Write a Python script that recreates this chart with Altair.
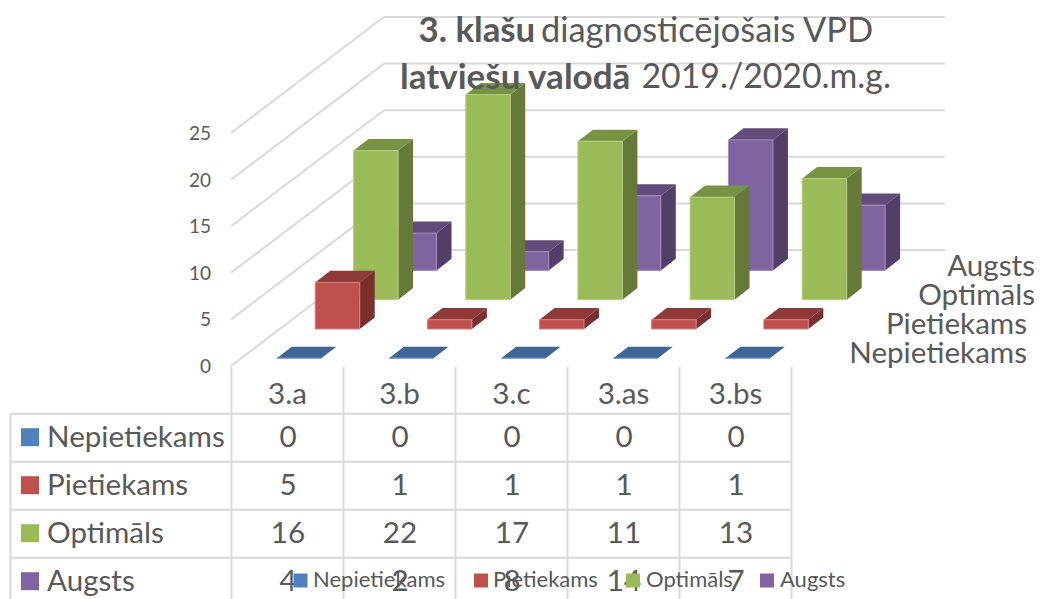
import altair as alt
import pandas as pd

classes = ["3.a", "3.b", "3.c", "3.as", "3.bs"]
series = ["Nepietiekams", "Pietiekams", "Optimāls", "Augsts"]
nepietiekams = [0, 0, 0, 0, 0]
pietiekams = [5, 1, 1, 1, 1]
optimals = [16, 22, 17, 11, 13]
augsts = [4, 2, 8, 14, 7]
values = [nepietiekams, pietiekams, optimals, augsts]
ticks = [0, 5, 10, 15, 20, 25]

front = ["#4F81BD", "#C0504D", "#9BBB59", "#8064A2"]
top = ["#3E6593", "#8F3A38", "#779343", "#624C7C"]
side = ["#355680", "#7A2F2D", "#66793A", "#523E66"]
edge = ["#7FA3D0", "#D98280", "#B5CE80", "#A48CC0"]

FONT = "Lato"
TXT = "#595959"
GRID = "#D9D9D9"

# projection of the 3-D chart on to the picture
UNIT = 9.32
BAR_W = 44.5
CAT_STEP = 112.15
SER_DX, SER_DY = 38.4, -29.3
DEPTH_DX, DEPTH_DY = 15, -11.6
X0, Y0 = 276.8, 358.3

xs = alt.Scale(domain=[8, 1036], range=[0, 1028], zero=False, nice=False)
ys = alt.Scale(domain=[8, 599], range=[0, 591], zero=False, nice=False)
X = lambda f: alt.X(f, type="quantitative", scale=xs, axis=None)
Y = lambda f: alt.Y(f, type="quantitative", scale=ys, axis=None)
X2 = lambda f: alt.X2(f)
Y2 = lambda f: alt.Y2(f)
layers = []


def rules(rows, width=2, color=GRID):
    df = pd.DataFrame(rows, columns=["x", "y", "x2", "y2"])
    return alt.Chart(df).mark_rule(color=color, strokeWidth=width).encode(
        x=X("x"), y=Y("y"), x2=X2("x2"), y2=Y2("y2"))


def text(rows, size, align="center", weight="normal", color=TXT):
    df = pd.DataFrame(rows, columns=["x", "y", "t"])
    return alt.Chart(df).mark_text(
        font=FONT, fontSize=size, align=align, baseline="middle",
        fontWeight=weight, color=color).encode(x=X("x"), y=Y("y"), text="t:N")


def rects(rows, color, stroke=None):
    df = pd.DataFrame(rows, columns=["x", "y", "x2", "y2"])
    kw = {"stroke": stroke, "strokeWidth": 1} if stroke else {}
    return alt.Chart(df).mark_rect(color=color, **kw).encode(
        x=X("x"), y=Y("y"), x2=X2("x2"), y2=Y2("y2"))


# gridlines on the walls
FLOOR_L, FLOOR_LY = 231, 366
BACK_L, BACK_R, BACK_Y = 384, 945, 250
grid = []
for t in ticks:
    d = t * UNIT
    grid.append((FLOOR_L, FLOOR_LY - d, BACK_L, BACK_Y - d))
    grid.append((BACK_L, BACK_Y - d, BACK_R, BACK_Y - d))
layers.append(rules(grid))

# bars, back series first
for s in reversed(range(len(series))):
    side_rows, top_rows, front_rows = [], [], []
    for c, v in enumerate(values[s]):
        l = X0 + s * SER_DX + c * CAT_STEP
        r = l + BAR_W
        b = Y0 + s * SER_DY
        t = b - v * UNIT
        key = f"{s}-{c}"
        side_rows += [
            {"k": key, "x": r, "y": t, "y2": b},
            {"k": key, "x": r + DEPTH_DX, "y": t + DEPTH_DY, "y2": b + DEPTH_DY},
        ]
        top_rows += [
            {"k": key, "y": t, "x": l, "x2": r},
            {"k": key, "y": t + DEPTH_DY, "x": l + DEPTH_DX, "x2": r + DEPTH_DX},
        ]
        front_rows.append((l, t, r, b))
    layers.append(alt.Chart(pd.DataFrame(side_rows)).mark_area(color=side[s], opacity=1).encode(
        x=X("x"), y=Y("y"), y2=Y2("y2"), detail="k:N"))
    layers.append(alt.Chart(pd.DataFrame(top_rows)).mark_area(color=top[s], orient="horizontal", opacity=1).encode(
        y=Y("y"), x=X("x"), x2=X2("x2"), detail="k:N"))
    layers.append(rects(front_rows, front[s], edge[s]))

# value-axis labels
layers.append(text([(211, FLOOR_LY + 1 - t * UNIT, str(t)) for t in ticks], 19, "right"))

# depth-axis labels (the last two end at the picture's usable right edge)
depth_right = [1027, 1027, 1035, 1035]
depth_y = [354, 325, 296, 267]
layers.append(text([(depth_right[i], depth_y[i], series[i]) for i in range(4)], 29.6, "right"))

# data table
COL = [231.5 + i * 112 for i in range(6)]
ROW = [413.7 + i * 48 for i in range(4)]
tbl = [(x, 367, x, 599) for x in COL] + [(10.5, ROW[0], 10.5, 599)]
tbl += [(10.5, y, COL[-1], y) for y in ROW]
layers.append(rules(tbl))
layers.append(text([(COL[i] + 56, 395, classes[i]) for i in range(5)], 29.6))
cells = []
for r in range(4):
    for c in range(5):
        cells.append((COL[c] + 56.5, ROW[r] + 24, str(values[r][c])))
layers.append(text(cells, 29.6))
layers.append(text([(47, ROW[i] + 24, series[i]) for i in range(4)], 29.6, "left"))
for i in range(4):
    layers.append(rects([(21, ROW[i] + 14.5, 39, ROW[i] + 32.5)], front[i]))

# chart title, bold and regular runs
layers.append(text([(418.5, 32, "3. klašu")], 34.8, "left", "bold"))
layers.append(text([(541, 32, "diagnosticējošais VPD")], 34.4, "left"))
layers.append(text([(400, 78, "latviešu valodā")], 35, "left", "bold"))
layers.append(text([(641.5, 78, "2019./2020.m.g.")], 33.8, "left"))

# bottom legend
leg_key = [293.5, 474, 626, 760]
leg_txt = [313, 493, 646, 780]
for i in range(4):
    layers.append(rects([(leg_key[i], 573.5, leg_key[i] + 14, 587.5)], front[i]))
layers.append(text([(leg_txt[i], 580, series[i]) for i in range(4)], 22, "left"))

chart = alt.layer(*layers).properties(
    width=1028, height=591, padding=0,
    autosize=alt.AutoSizeParams(type="none"),
).configure_view(stroke=None)

chart.save("out.html", embed_options={"renderer": "svg", "actions": False})
